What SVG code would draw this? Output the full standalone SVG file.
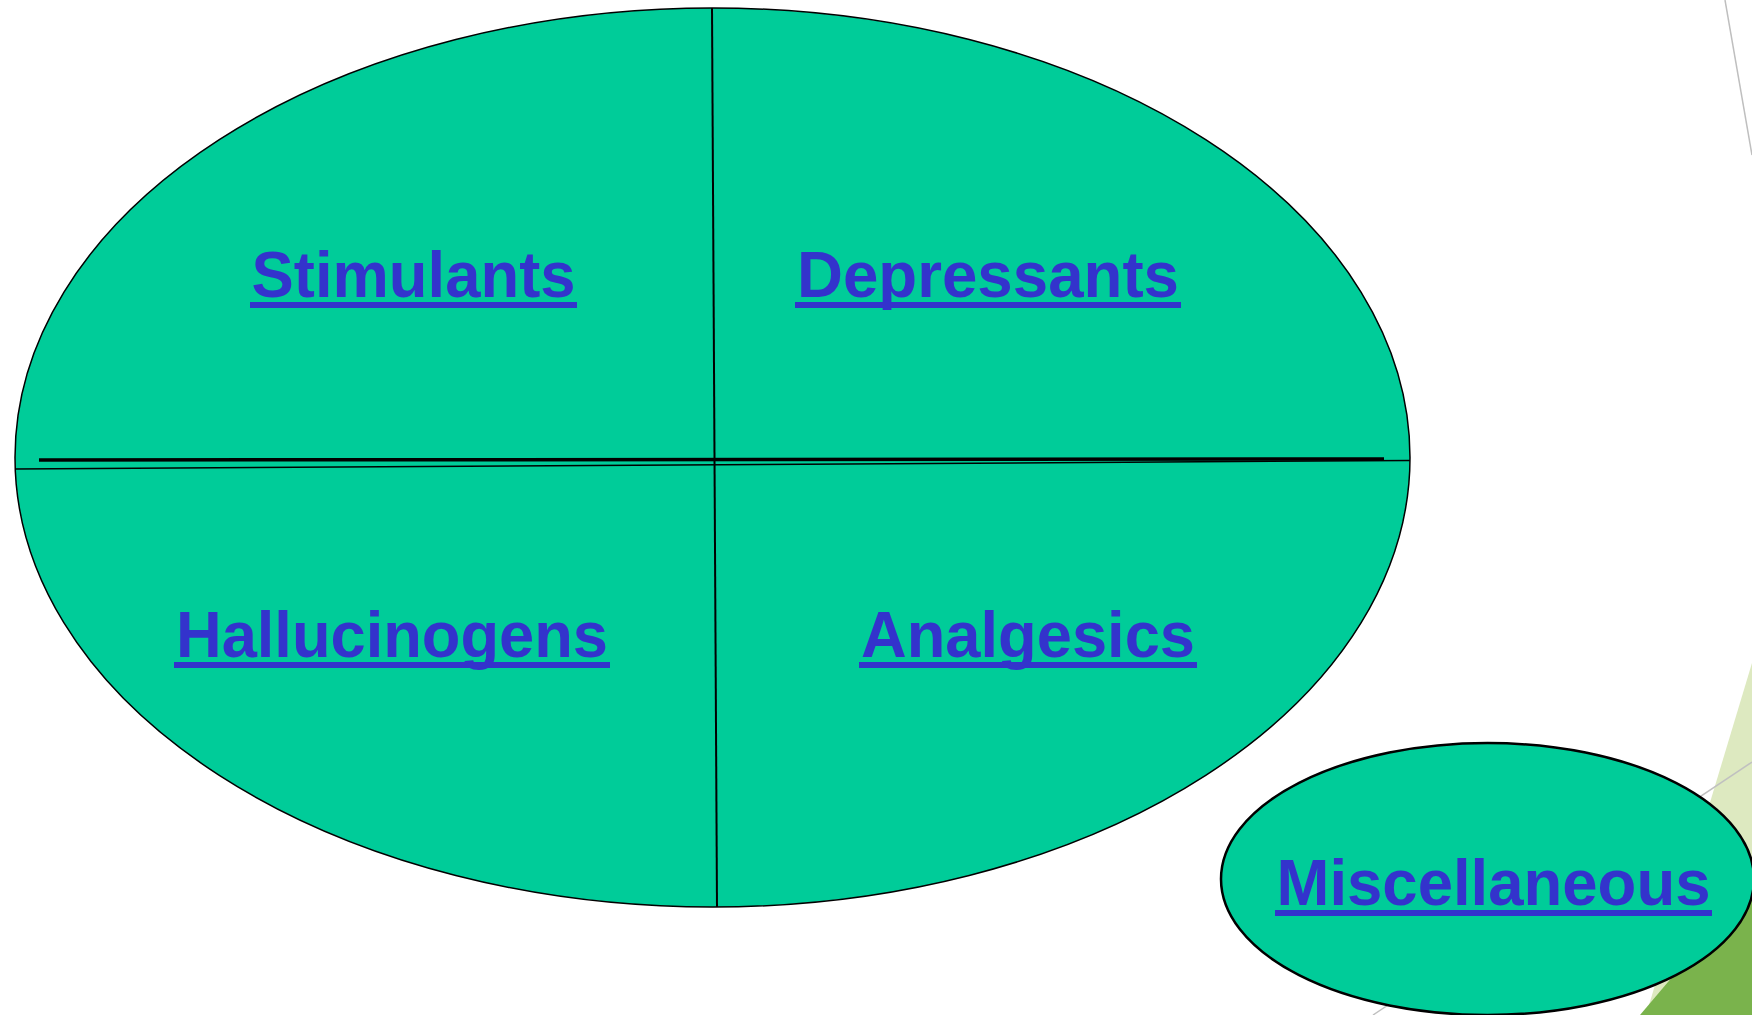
<svg xmlns="http://www.w3.org/2000/svg" width="1752" height="1015" viewBox="0 0 1752 1015">
  <style>
    .blob { fill: #00CC99; stroke: #000000; }
    .lbl { font-family: "Liberation Sans", Arial, sans-serif; font-weight: bold; font-size: 65px; fill: #3333CC; text-anchor: middle; }
    .ul { stroke: #3333CC; stroke-width: 6; }
    .div { stroke: #000000; fill: none; }
  </style>
  <g id="background">
    <rect x="0" y="0" width="1752" height="1015" fill="#FFFFFF"/>
    <polygon points="1752,663 1646,1015 1752,1015" fill="#DDE9C0"/>
    <polygon points="1640,1015 1752,883 1752,1015" fill="#7AB34C"/>
    <line x1="1373" y1="1015" x2="1752" y2="762" stroke="#C0C0C0" stroke-width="1.5"/>
    <line x1="1725" y1="0" x2="1752" y2="155" stroke="#BFBFBF" stroke-width="1.5"/>
  </g>
  <g id="main-ellipse">
    <ellipse class="blob" cx="712.5" cy="457.5" rx="697.5" ry="449.5" stroke-width="1.5"/>
  </g>
  <g id="connectors">
    <line class="div" x1="712" y1="8" x2="717" y2="907" stroke-width="2"/>
    <line class="div" x1="15" y1="469" x2="1410" y2="460.5" stroke-width="1.5"/>
    <line class="div" x1="39" y1="460" x2="1384" y2="459" stroke-width="3.5"/>
  </g>
  <g id="stimulants">
    <text class="lbl" x="413.5" y="297" textLength="324" lengthAdjust="spacingAndGlyphs">Stimulants</text>
    <line class="ul" x1="250" y1="305" x2="577" y2="305"/>
  </g>
  <g id="depressants">
    <text class="lbl" x="988" y="297" textLength="382" lengthAdjust="spacingAndGlyphs">Depressants</text>
    <line class="ul" x1="795" y1="305" x2="1181" y2="305"/>
  </g>
  <g id="hallucinogens">
    <text class="lbl" x="392" y="657" textLength="432" lengthAdjust="spacingAndGlyphs">Hallucinogens</text>
    <line class="ul" x1="174" y1="665" x2="610" y2="665"/>
  </g>
  <g id="analgesics">
    <text class="lbl" x="1028" y="657" textLength="334" lengthAdjust="spacingAndGlyphs">Analgesics</text>
    <line class="ul" x1="859" y1="665" x2="1197" y2="665"/>
  </g>
  <g id="miscellaneous">
    <ellipse class="blob" cx="1487.5" cy="879" rx="266.5" ry="136" stroke-width="2.5"/>
    <text class="lbl" x="1493.5" y="905" textLength="434" lengthAdjust="spacingAndGlyphs">Miscellaneous</text>
    <line class="ul" x1="1275" y1="913" x2="1712" y2="913"/>
  </g>
</svg>
